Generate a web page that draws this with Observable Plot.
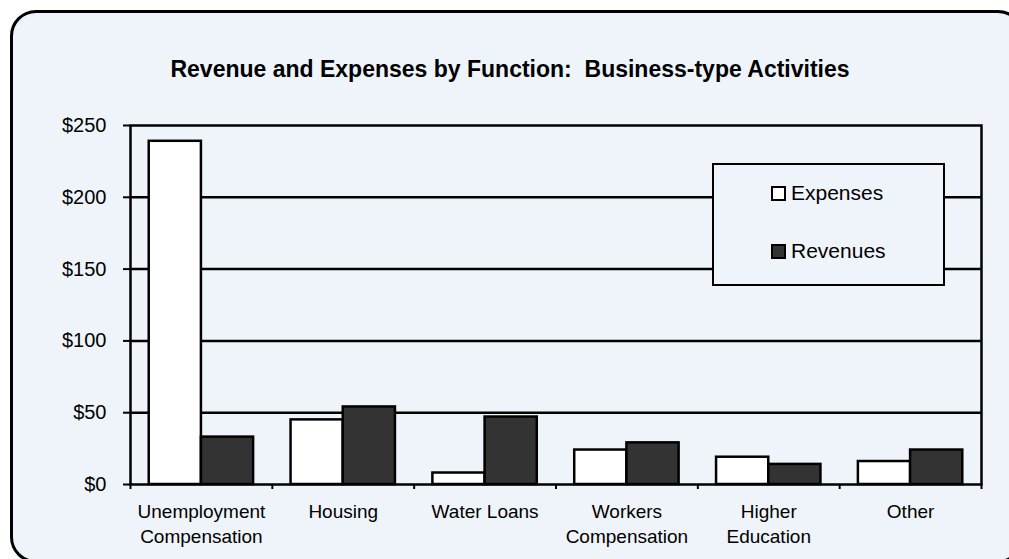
<!DOCTYPE html>
<html><head><meta charset="utf-8">
<script src="https://cdn.jsdelivr.net/npm/d3@7"></script>
<script src="https://cdn.jsdelivr.net/npm/@observablehq/plot@0.6"></script>
<style>
html,body{margin:0;padding:0;background:#fff;overflow:hidden;width:1009px;height:559px;position:relative;}
#card{position:absolute;left:10px;top:10px;width:1014px;height:553px;border:3px solid #000;border-radius:26px;background:#eff4fa;box-sizing:border-box;}
#chart{position:absolute;left:0;top:0;}
#title{position:absolute;left:0;width:1020px;top:56px;text-align:center;font:bold 23px "Liberation Sans",Arial,sans-serif;white-space:pre;color:#000;}
#legend{position:absolute;left:712px;top:163px;width:233px;height:123px;box-sizing:border-box;border:2.5px solid #000;background:#eff4fa;font:21px "Liberation Sans",Arial,sans-serif;color:#000;}
.item{position:absolute;left:57px;height:24px;display:flex;align-items:center;}
.sw{width:15px;height:15px;box-sizing:border-box;border:2.5px solid #000;margin-right:5px;}
</style></head>
<body>
<div id="card"></div>
<div id="chart"></div>
<div id="title">Revenue and Expenses by Function:  Business-type Activities</div>
<div id="legend"></div>
<script>
const categories = ["Unemployment\nCompensation", "Housing", "Water Loans", "Workers\nCompensation", "Higher\nEducation", "Other"];
const expenses = [239, 45, 8, 24, 19, 16];
const revenues = [33, 54, 47, 29, 14, 24];
const seriesNames = ["Expenses", "Revenues"];
const seriesColors = ["#ffffff", "#333333"];
const yTicks = [0, 50, 100, 150, 200, 250];

const W = 1009, H = 559, mL = 130, mR = 28, mT = 125, mB = 75;
const step = (W - mL - mR) / categories.length;
const gap = step * 0.132, bw = step * 0.368;
const data = categories.map((c, i) => ({category: c, Expenses: expenses[i], Revenues: revenues[i]}));

const chart = Plot.plot({
  width: W, height: H,
  marginLeft: mL, marginRight: mR, marginTop: mT, marginBottom: mB,
  style: {background: "transparent", fontFamily: "'Liberation Sans', Arial, sans-serif", fontSize: "19px", color: "#000"},
  x: {domain: categories, padding: 0, round: false, label: null},
  y: {domain: [0, 250], label: null},
  marks: [
    Plot.gridY(yTicks.slice(1, -1), {stroke: "#000", strokeOpacity: 1, strokeWidth: 2.5}),
    Plot.frame({stroke: "#000", strokeWidth: 2.5}),
    Plot.barY(data, {x: "category", y: seriesNames[0], fill: seriesColors[0], stroke: "#000", strokeWidth: 2.5, insetLeft: gap, insetRight: gap + bw}),
    Plot.barY(data, {x: "category", y: seriesNames[1], fill: seriesColors[1], stroke: "#000", strokeWidth: 2.5, insetLeft: gap + bw, insetRight: gap}),
    Plot.axisY(yTicks, {tickFormat: d => "$" + d, tickSize: 7, tickPadding: 17, fontSize: 20, strokeWidth: 2, label: null}),
    Plot.axisX({tickSize: 0, tickPadding: 16, fontSize: 19, lineHeight: 1.3, label: null}),
    Plot.axisX(categories, {tickSize: 5, tickFormat: () => "", dx: -step / 2, strokeWidth: 2, label: null}),
    Plot.axisX(categories.slice(-1), {tickSize: 5, tickFormat: () => "", dx: step / 2, strokeWidth: 2, label: null})
  ]
});
document.getElementById("chart").appendChild(chart);

const legend = document.getElementById("legend");
seriesNames.forEach((name, i) => {
  const item = document.createElement("div");
  item.className = "item";
  item.style.top = (16 + i * 58) + "px";
  const sw = document.createElement("div");
  sw.className = "sw";
  sw.style.background = seriesColors[i];
  const t = document.createElement("span");
  t.textContent = name;
  item.appendChild(sw); item.appendChild(t);
  legend.appendChild(item);
});
</script>
</body></html>
